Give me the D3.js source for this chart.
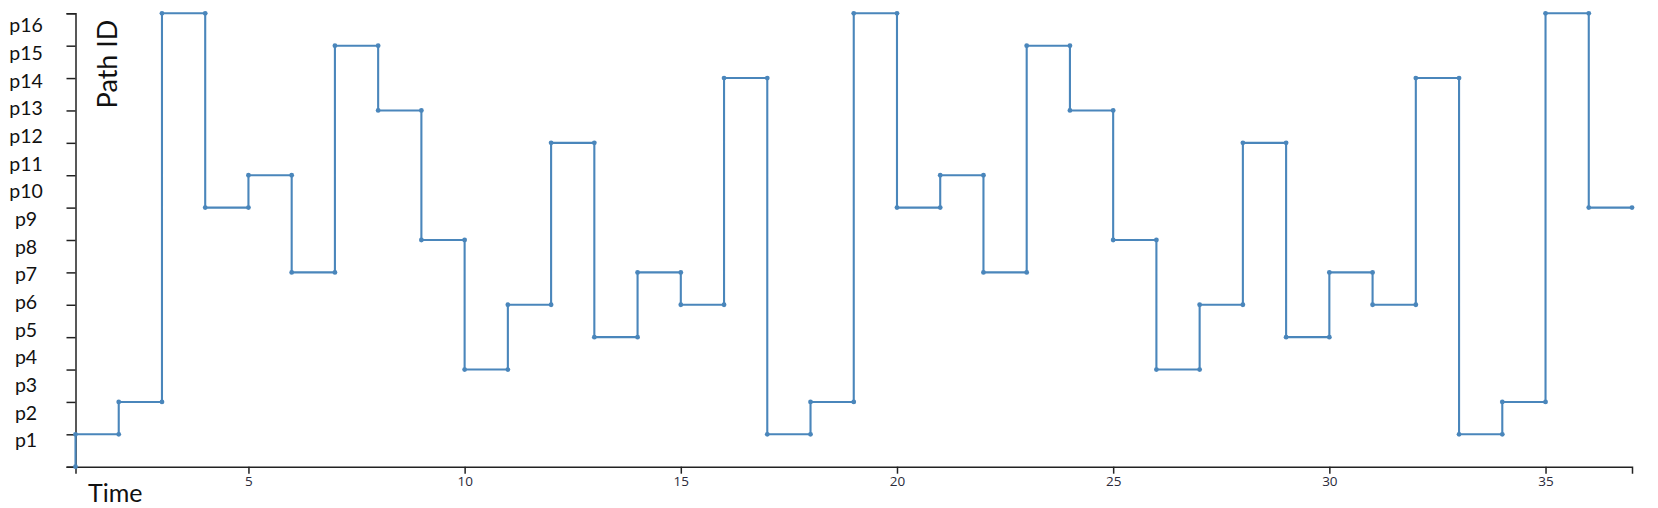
<!DOCTYPE html>
<html>
<head>
<meta charset="utf-8">
<script src="https://cdn.jsdelivr.net/npm/d3@7"></script>
<style>
  html, body { margin: 0; padding: 0; background: #fff; }
  svg { display: block; }
</style>
</head>
<body>
<svg id="chart" width="1658" height="508"></svg>
<script>
// Time steps (start of each interval, plus the final end time)
const times = [1,2,3,4,5,6,7,8,9,10,11,12,13,14,15,16,17,18,19,20,21,22,23,24,25,26,27,28,29,30,31,32,33,34,35,36,37];
// Path level held during each interval [times[i], times[i+1]]
const levels = [1,2,14,8,9,6,13,11,7,3,5,10,4,6,5,12,1,2,14,8,9,6,13,11,7,3,5,10,4,6,5,12,1,2,14,8];
// Y tick values (levels) and overlay labels
const yTicks = [0,1,2,3,4,5,6,7,8,9,10,11,12,13,14];
const pLabels = ["p1","p2","p3","p4","p5","p6","p7","p8","p9","p10","p11","p12","p13","p14","p15","p16"];
const xTicks = [5,10,15,20,25,30,35];

const svg = d3.select("#chart");

const x = d3.scaleLinear().domain([1, 37]).range([75.5, 1632]);
const y = d3.scaleLinear().domain([0, 14]).range([466.7, 13.3]);
const labelY = d3.scalePoint().domain(pLabels).range([447.3, 32.3]);

// Y axis (ticks without numbers)
const yAxis = svg.append("g")
  .attr("transform", `translate(${x(1)},0)`)
  .call(d3.axisLeft(y).tickValues(yTicks).tickSize(9).tickSizeOuter(9).tickFormat(""));
yAxis.selectAll("path,line").attr("stroke", "#222").attr("stroke-width", 1.5);

// X axis
const xAxis = svg.append("g")
  .attr("transform", `translate(0,${y(0)})`)
  .call(d3.axisBottom(x).tickValues(xTicks).tickSize(7).tickSizeOuter(7).tickPadding(3));
xAxis.selectAll("path,line").attr("stroke", "#222").attr("stroke-width", 1.5);
xAxis.selectAll("text")
  .attr("font-family", "'Open Sans', sans-serif")
  .attr("font-size", "13.5px")
  .attr("fill", "#2a2a3a");

// Path ID labels overlay
svg.append("g").selectAll("text")
  .data(pLabels)
  .join("text")
  .attr("x", 26)
  .attr("y", d => labelY(d))
  .attr("text-anchor", "middle")
  .attr("font-family", "Lato, 'Open Sans', sans-serif")
  .attr("font-size", "19.5px")
  .attr("fill", "#111")
  .text(d => d);

// Build step vertices from data
const verts = [[times[0], 0]];
levels.forEach((v, i) => {
  verts.push([times[i], v]);
  verts.push([times[i + 1], v]);
});

const line = d3.line().x(d => x(d[0])).y(d => y(d[1]));

svg.append("path")
  .datum(verts)
  .attr("d", line)
  .attr("fill", "none")
  .attr("stroke", "#4a86bb")
  .attr("stroke-width", 2.1)
  .attr("stroke-linejoin", "miter");

svg.append("g").selectAll("circle")
  .data(verts)
  .join("circle")
  .attr("cx", d => x(d[0]))
  .attr("cy", d => y(d[1]))
  .attr("r", 2.4)
  .attr("fill", "#4a86bb");

// Axis titles
svg.append("text")
  .attr("transform", "translate(117,64) rotate(-90)")
  .attr("text-anchor", "middle")
  .attr("font-family", "Lato, 'Open Sans', sans-serif")
  .attr("font-size", "27px")
  .attr("fill", "#111")
  .text("Path ID");

svg.append("text")
  .attr("x", 88)
  .attr("y", 502)
  .attr("font-family", "Lato, 'Open Sans', sans-serif")
  .attr("font-size", "25px")
  .attr("fill", "#111")
  .text("Time");
</script>
</body>
</html>
